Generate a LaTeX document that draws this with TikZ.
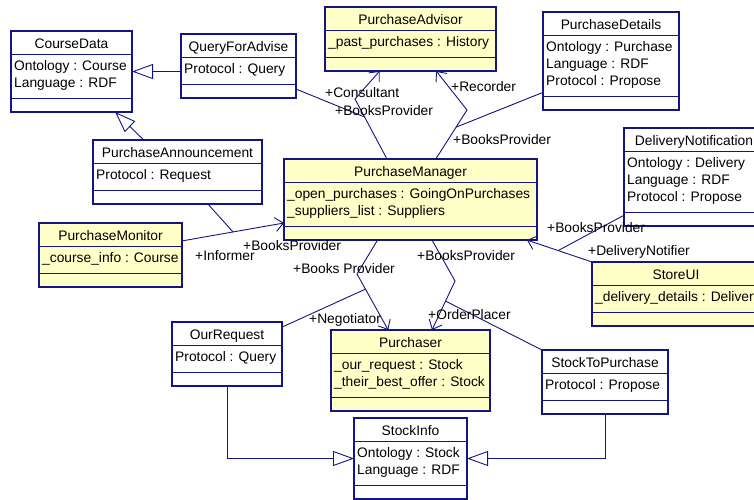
\documentclass[tikz,border=0pt]{standalone}
\usepackage{fontspec}
\setmainfont{Liberation Sans}
\usepackage{tikz}
\usetikzlibrary{arrows.meta, calc}

\definecolor{rosenavy}{RGB}{20,20,130}
\definecolor{roseyellow}{RGB}{255,255,200}

\tikzset{
  classbox/.style={rectangle, draw=rosenavy, line width=1.4pt, fill=white, inner sep=0pt, outer sep=0pt},
  agentbox/.style={classbox, fill=roseyellow},
  divider/.style={draw=rosenavy, line width=1pt},
  titletext/.style={inner sep=0pt, font=\fontsize{13.8}{17}\selectfont},
  attrtext/.style={inner sep=0pt, font=\fontsize{13.8}{17}\selectfont},
  role/.style={inner sep=0pt, anchor=base west, font=\fontsize{13.8}{17}\selectfont},
  gen/.style={draw=rosenavy, line width=0.9pt, -{Triangle[open, length=21pt, width=15pt]}},
  assoc/.style={draw=rosenavy, line width=0.9pt},
  nav/.style={assoc, -{Straight Barb[length=8pt, width=14pt]}},
}

% class box: [style]{name}{left}{top}{width}{no. of attributes}{title}{attributes}
\newcommand{\umlclass}[8][classbox]{%
  \node[#1, minimum width=#5pt, minimum height={(47+17*#6)*1pt}, anchor=north west] (#2) at (#3,#4) {};
  \node[titletext, anchor=base] (#2-t) at ({#3+#5/2},{#4+17.5}) {#7};
  \draw[divider] ({#3},{#4+23}) -- ({#3+#5},{#4+23});
  \draw[divider] ({#3},{#4+33+17*#6}) -- ({#3+#5},{#4+33+17*#6});
  \foreach \a [count=\i] in {#8}
    \node[attrtext, anchor=base west] (#2-a\i) at ({#3+3},{#4+39+17*(\i-1)}) {\a};
}

\begin{document}
\begin{tikzpicture}[x=1pt, y=-1pt]
\useasboundingbox (0,0) rectangle (754,499);
\clip (0,0) rectangle (754,499);

% classes
\umlclass{course}{11}{31}{121}{2}{CourseData}{Ontology : Course, Language : RDF}
\umlclass{query}{181}{34}{115}{1}{QueryForAdvise}{Protocol : Query}
\umlclass[agentbox]{advisor}{325}{7}{171}{1}{PurchaseAdvisor}{\_past\_purchases : History}
\umlclass{details}{543}{12}{136}{3}{PurchaseDetails}{Ontology : Purchase, Language : RDF, Protocol : Propose}
\umlclass{delivery}{624}{128}{140}{3}{DeliveryNotification}{Ontology : Delivery, Language : RDF, Protocol : Propose}
\umlclass{announce}{93}{140}{169}{1}{PurchaseAnnouncement}{Protocol : Request}
\umlclass[agentbox]{monitor}{39}{223}{143}{1}{PurchaseMonitor}{\_course\_info : Course}
\umlclass[agentbox]{manager}{284}{159}{253}{2}{PurchaseManager}{\_open\_purchases : GoingOnPurchases, \_suppliers\_list : Suppliers}
\umlclass[agentbox]{storeui}{592}{262}{168}{1}{StoreUI}{\_delivery\_details : Delivery}
\umlclass{ourreq}{172}{322}{110}{1}{OurRequest}{Protocol : Query}
\umlclass[agentbox]{purchaser}{331}{330}{159}{2}{Purchaser}{\_our\_request : Stock, \_their\_best\_offer : Stock}
\umlclass{stocktop}{542}{350}{126}{1}{StockToPurchase}{Protocol : Propose}
\umlclass{stockinfo}{354}{418}{113}{2}{StockInfo}{Ontology : Stock, Language : RDF}

% generalizations
\draw[gen] (query.west |- course.east) -- (course.east);
\draw[gen] ($(announce.north west)!0.3!(announce.north east)$) -- ($(course.south west)!0.86!(course.south east)$);
\draw[gen] (ourreq.south) |- (stockinfo.west);
\draw[gen] (stocktop.south) |- (stockinfo.east);

% associations
\coordinate (consA) at ($(manager.north west)!0.407!(manager.north east)$);
\coordinate (consB) at (355,99);
\draw[nav] (consA) -- (consB) -- ($(advisor.south west)!0.32!(advisor.south east)$);
\draw[assoc] ($(query.north east)!0.86!(query.south east)$) -- ($(consA)!0.7!(consB)$);

\coordinate (recA) at ($(manager.north west)!0.6!(manager.north east)$);
\coordinate (recB) at (467,110);
\draw[nav] (recA) -- (recB) -- ($(advisor.south west)!0.65!(advisor.south east)$);
\draw[assoc] ($(details.north west)!0.82!(details.south west)$) -- ($(recA)!0.65!(recB)$);

\coordinate (infA) at ($(monitor.north east)!0.28!(monitor.south east)$);
\coordinate (infB) at ($(manager.north west)!0.79!(manager.south west)$);
\draw[nav] (infA) -- (infB);
\draw[assoc] ($(announce.south west)!0.68!(announce.south east)$) -- ($(infA)!0.5!(infB)$);

\coordinate (negA) at ($(manager.south west)!0.37!(manager.south east)$);
\coordinate (negB) at (357,274);
\coordinate (negC) at ($(purchaser.north west)!0.36!(purchaser.north east)$);
\draw[nav] (negA) -- (negB) -- (negC);
\draw[assoc] ($(ourreq.north east)!0.08!(ourreq.south east)$) -- ($(negB)!0.27!(negC)$);

\coordinate (ordA) at ($(manager.south west)!0.585!(manager.south east)$);
\coordinate (ordB) at (455,281);
\coordinate (ordC) at ($(purchaser.north west)!0.635!(purchaser.north east)$);
\draw[nav] (ordA) -- (ordB) -- (ordC);
\draw[assoc] (stocktop.north west) -- ($(ordB)!0.41!(ordC)$);

\coordinate (notA) at (storeui.north west);
\coordinate (notB) at ($(manager.south west)!0.96!(manager.south east)$);
\draw[nav] (notA) -- (notB);
\draw[assoc] ($(delivery.north west)!0.89!(delivery.south west)$) -- ($(notA)!0.52!(notB)$);

% role names
\node[role] (r-consultant) at (325,97) {+Consultant};
\node[role] (r-bp1) at (335,115) {+BooksProvider};
\node[role] (r-recorder) at (451,91) {+Recorder};
\node[role] (r-bp2) at (453,144) {+BooksProvider};
\node[role] (r-informer) at (195,260) {+Informer};
\node[role] (r-bp3) at (243,250) {+BooksProvider};
\node[role] (r-bp4) at (293,273) {+Books Provider};
\node[role] (r-bp5) at (417,260) {+BooksProvider};
\node[role] (r-negotiator) at (309,323) {+Negotiator};
\node[role] (r-orderplacer) at (428,319) {+OrderPlacer};
\node[role] (r-bp6) at (547,232) {+BooksProvider};
\node[role] (r-notifier) at (588,255) {+DeliveryNotifier};

\end{tikzpicture}
\end{document}
